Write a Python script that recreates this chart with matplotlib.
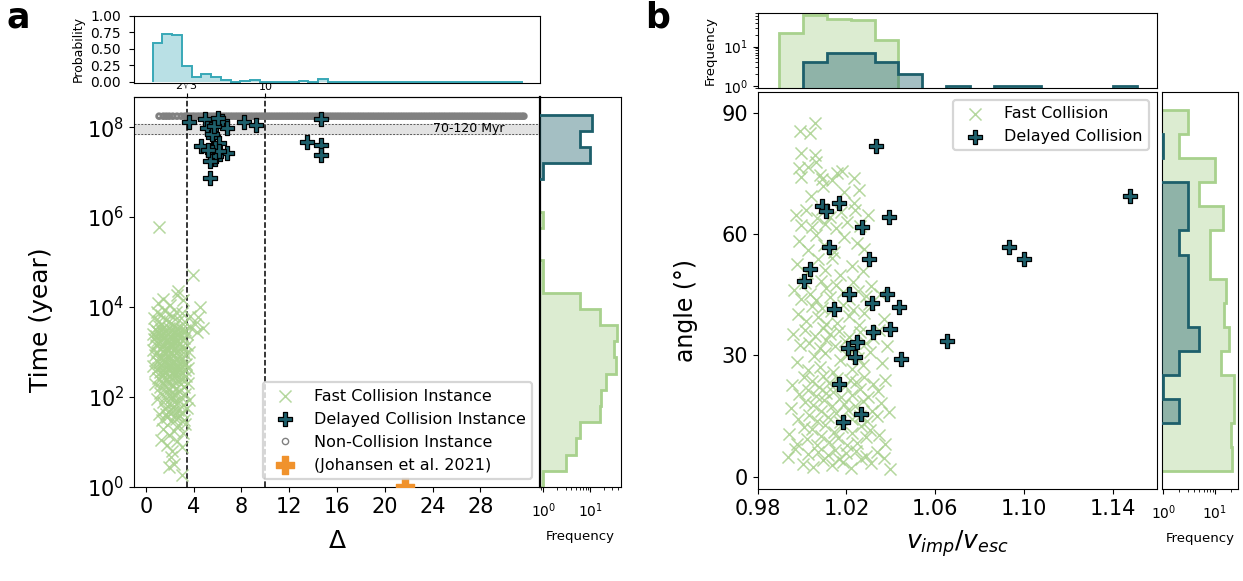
import numpy as np
import matplotlib
matplotlib.use("Agg")
import matplotlib.pyplot as plt
from matplotlib.ticker import NullLocator
from matplotlib.lines import Line2D

# ---------------- data ----------------
# collision probability per Delta bin (top histogram of panel a)
collision_probability = [0.59, 0.727, 0.707, 0.237, 0.076, 0.111, 0.066, 0.025, 0.0, 0.015,
                         0.025, 0.0, 0.0, 0.0, 0.0, 0.015, 0.0, 0.035, 0.0, 0.0,
                         0.0, 0.0, 0.0, 0.0, 0.0, 0.0, 0.0, 0.0, 0.0, 0.0,
                         0.0, 0.0, 0.0, 0.0, 0.0, 0.0, 0.0, 0.0]

# panel a: fast collisions (Delta, log10 time [yr])
fast_delta = [
    2.98,
    2.14, 2.32, 1.95,
    1.30, 2.56, 2.20, 1.75, 3.00,
    3.10, 1.45, 2.70, 1.90, 2.35, 3.25,
    1.10, 1.35, 1.58, 1.80, 1.95, 2.10, 2.25, 2.40, 2.55, 2.70, 2.85, 3.00, 3.20, 3.45, 1.70, 2.30,
    0.95, 1.20, 1.40, 1.62, 1.78, 1.93, 2.08, 2.22, 2.37, 2.50, 2.66, 2.80, 2.95, 3.12, 3.30, 3.60, 2.15,
    0.80, 1.00, 1.15, 1.28, 1.42, 1.55, 1.68, 1.82, 1.95, 2.05, 2.18, 2.30, 2.42, 2.55, 2.68, 2.80,
    2.92, 3.05, 3.18, 3.35, 3.55, 1.60,
    0.62, 0.75, 0.88, 0.98, 1.08, 1.18, 1.27, 1.36, 1.45, 1.53, 1.62, 1.70, 1.79, 1.87, 1.95, 2.03,
    2.11, 2.19, 2.27, 2.35, 2.43, 2.51, 2.59, 2.67, 2.75, 2.84, 2.93, 3.02, 3.12, 3.23, 3.36, 3.52,
    1.40, 2.00, 2.60,
    0.60, 0.72, 0.85, 0.95, 1.05, 1.14, 1.23, 1.32, 1.41, 1.50, 1.58, 1.67, 1.76, 1.84, 1.92, 2.01,
    2.09, 2.17, 2.26, 2.34, 2.43, 2.52, 2.61, 2.70, 2.79, 2.88, 2.98, 3.10, 3.24, 3.40, 3.62, 1.88,
    0.58, 0.68, 0.78, 0.87, 0.96, 1.04, 1.12, 1.20, 1.28, 1.36, 1.44, 1.52, 1.60, 1.68, 1.76, 1.84,
    1.92, 2.00, 2.08, 2.16, 2.24, 2.32, 2.40, 2.48, 2.56, 2.64, 2.72, 2.80, 2.89, 2.98, 3.08, 3.19,
    3.30, 3.45, 3.65, 4.25, 4.80, 1.00,
    0.70, 0.90, 1.10, 1.30, 1.50, 1.70, 1.90, 2.10, 2.30, 2.50, 2.75, 3.00, 3.30, 3.70, 4.37, 4.10,
    1.43, 2.56, 4.51, 1.05, 2.00, 3.10,
    2.69,
    3.95,
    1.07,
]
fast_log10_time = [
    0.27,
    0.66, 0.52, 0.45,
    1.05, 1.02, 0.80, 0.93, 0.88,
    1.19, 1.30, 1.38, 1.15, 1.25, 1.41,
    1.62, 1.50, 1.74, 1.55, 1.68, 1.47, 1.78, 1.60, 1.52, 1.71, 1.58, 1.66, 1.49, 1.75, 1.62, 1.69,
    1.95, 2.08, 1.88, 2.01, 2.12, 1.84, 1.97, 2.10, 1.90, 2.05, 1.86, 2.13, 1.99, 1.83, 2.07, 1.94, 2.02,
    2.30, 2.42, 2.22, 2.35, 2.48, 2.27, 2.40, 2.19, 2.33, 2.46, 2.25, 2.38, 2.50, 2.21, 2.36, 2.44,
    2.28, 2.41, 2.23, 2.47, 2.32, 2.37,
    2.70, 2.58, 2.82, 2.64, 2.76, 2.55, 2.86, 2.68, 2.60, 2.79, 2.54, 2.73, 2.85, 2.62, 2.71, 2.57,
    2.80, 2.66, 2.53, 2.77, 2.63, 2.84, 2.58, 2.72, 2.61, 2.81, 2.56, 2.69, 2.78, 2.59, 2.74, 2.65,
    2.83, 2.68, 2.70,
    3.05, 2.93, 3.15, 2.99, 3.21, 3.08, 2.90, 3.12, 3.02, 3.19, 2.95, 3.10, 3.04, 3.22, 2.91, 3.13,
    3.00, 3.17, 2.94, 3.09, 3.20, 2.97, 3.11, 3.03, 3.18, 2.92, 3.14, 3.06, 2.96, 3.16, 3.01, 3.07,
    3.40, 3.28, 3.52, 3.35, 3.46, 3.27, 3.57, 3.38, 3.49, 3.30, 3.43, 3.55, 3.33, 3.47, 3.26, 3.41,
    3.53, 3.36, 3.29, 3.50, 3.39, 3.58, 3.31, 3.45, 3.37, 3.54, 3.25, 3.42, 3.34, 3.51, 3.44, 3.32,
    3.48, 3.39, 3.56, 3.45, 3.53, 3.44,
    3.75, 3.88, 3.68, 3.82, 3.93, 3.71, 3.85, 3.64, 3.79, 3.90, 3.72, 3.86, 3.66, 3.81, 3.78, 3.62,
    4.19, 4.27, 4.00, 4.10, 4.05, 4.15,
    4.36,
    4.71,
    5.79,
]

# panel a: delayed collisions
delayed_delta = [3.62, 4.93, 5.08, 5.86, 6.33, 6.80, 5.63, 6.13, 4.60, 5.77,
                 5.63, 5.77, 6.75, 5.35, 8.23, 9.21, 14.66, 13.52, 14.66, 14.64,
                 5.50, 5.90, 6.10, 5.40, 5.20, 5.50, 5.70, 6.00]
delayed_log10_time = [8.12, 8.17, 7.99, 8.08, 8.14, 7.99, 7.78, 7.64, 7.58, 7.53,
                      7.38, 7.30, 7.42, 6.86, 8.12, 8.04, 8.17, 7.66, 7.60, 7.39,
                      7.45, 7.35, 7.48, 7.25, 7.50, 7.85, 8.02, 8.20]

# panel a: non-collision instances (all at the end of the integration)
noncollision_delta = [
    1.10, 1.45, 1.70, 1.95, 2.25, 2.60, 2.95, 3.25,
    3.45, 3.66, 3.88, 4.07, 4.30, 4.51, 4.72, 4.94, 5.13, 5.36, 5.57, 5.78, 6.00, 6.19, 6.42, 6.63,
    6.84, 7.05, 7.26, 7.48, 7.69, 7.90, 8.11, 8.33, 8.54, 8.75, 8.96, 9.18, 9.39, 9.60, 9.81, 10.03,
    10.24, 10.45, 10.66, 10.88, 11.09, 11.30, 11.51, 11.73, 11.94, 12.15, 12.36, 12.58, 12.79, 13.00,
    13.21, 13.43, 13.64, 13.85, 14.06, 14.28, 14.49, 14.70, 14.91, 15.13, 15.34, 15.55, 15.76, 15.98,
    16.19, 16.40, 16.61, 16.83, 17.04, 17.25, 17.46, 17.68, 17.89, 18.10, 18.31, 18.53, 18.74, 18.95,
    19.16, 19.38, 19.59, 19.80, 20.01, 20.23, 20.44, 20.65, 20.86, 21.08, 21.29, 21.50, 21.71, 21.93,
    22.14, 22.35, 22.56, 22.78, 22.99, 23.20, 23.41, 23.63, 23.84, 24.05, 24.26, 24.48, 24.69, 24.90,
    25.11, 25.33, 25.54, 25.75, 25.96, 26.18, 26.39, 26.60, 26.81, 27.03, 27.24, 27.45, 27.66, 27.88,
    28.09, 28.30, 28.51, 28.73, 28.94, 29.15, 29.36, 29.58, 29.79, 30.00, 30.21, 30.43, 30.64, 30.85,
    31.06, 31.28, 31.49, 31.65,
]
noncollision_time = 1.75e8

johansen_delta = [21.7]
johansen_time = [1.0]

# panel b: fast collisions (v_imp/v_esc, angle)
fast_v = [
    0.9992, 1.0058, 1.0036,
    0.9995, 1.0058,
    0.9985, 0.9996, 1.0027, 1.0081, 1.0088, 1.0062, 1.0156, 1.0179, 1.0135, 1.0236,
    1.0040, 1.0095, 1.0190, 1.0232, 1.0258,
    0.9972, 0.9995, 1.0018, 1.0046, 1.0067, 1.0089, 1.0105, 1.0128, 1.0153, 1.0175, 1.0201, 1.0238, 1.0262, 1.0295,
    0.9988, 1.0029, 1.0061, 1.0098, 1.0142, 1.0187, 1.0249, 1.0281,
    0.9976, 1.0021, 1.0073, 1.0104, 1.0136, 1.0169, 1.0226, 1.0274,
    0.9962, 0.9994, 1.0012, 1.0038, 1.0065, 1.0084, 1.0109, 1.0124, 1.0151, 1.0183, 1.0210, 1.0231, 1.0254, 1.0288, 1.0310, 1.0352,
    0.9981, 1.0016, 1.0043, 1.0070, 1.0092, 1.0107, 1.0131, 1.0158, 1.0185, 1.0213, 1.0229, 1.0256, 1.0277, 1.0301, 1.0368,
    0.9958, 0.9990, 1.0014, 1.0033, 1.0057, 1.0079, 1.0096, 1.0108, 1.0126, 1.0148, 1.0167, 1.0192, 1.0212, 1.0237, 1.0263, 1.0290, 1.0318, 1.0345, 1.0382,
    0.9979, 1.0025, 1.0052, 1.0080, 1.0103, 1.0139, 1.0171, 1.0204, 1.0227, 1.0251, 1.0276, 1.0305, 1.0359,
    0.9955, 0.9987, 1.0009, 1.0027, 1.0044, 1.0063, 1.0077, 1.0094, 1.0106, 1.0121, 1.0139, 1.0157, 1.0174, 1.0195, 1.0214, 1.0225, 1.0242, 1.0260, 1.0279, 1.0298, 1.0319, 1.0341, 1.0376,
    0.9948, 0.9983, 1.0011, 1.0030, 1.0049, 1.0068, 1.0087, 1.0101, 1.0118, 1.0134, 1.0152, 1.0170, 1.0188, 1.0206, 1.0223, 1.0240, 1.0259, 1.0275, 1.0292, 1.0314, 1.0336, 1.0357, 1.0392,
    0.9943, 0.9976, 1.0007, 1.0024, 1.0046, 1.0066, 1.0085, 1.0104, 1.0123, 1.0144, 1.0162, 1.0181, 1.0203, 1.0224, 1.0246, 1.0265, 1.0287, 1.0308, 1.0348, 1.0375,
    0.9935, 0.9968, 1.0005, 1.0028, 1.0051, 1.0073, 1.0096, 1.0115, 1.0133, 1.0149, 1.0165, 1.0186, 1.0199, 1.0221, 1.0244, 1.0266, 1.0289, 1.0312, 1.0339, 1.0371, 1.0395,
]
fast_angle = [
    85.6, 87.4, 85.1,
    80.0, 79.6,
    76.3, 74.0, 76.7, 74.6, 73.6, 77.8, 75.2, 75.6, 73.3, 73.9,
    69.5, 71.8, 70.4, 67.8, 71.0,
    64.8, 62.3, 65.9, 61.7, 63.9, 66.2, 62.6, 64.3, 61.4, 65.5, 63.0, 66.0, 62.1, 64.6,
    58.4, 56.1, 59.8, 57.3, 55.6, 59.2, 57.9, 56.4,
    52.7, 50.3, 53.9, 51.2, 54.1, 49.8, 52.2, 50.8,
    46.2, 44.0, 47.9, 45.1, 43.6, 48.3, 46.7, 44.4, 47.5, 45.6, 43.9, 48.1, 46.0, 44.7, 47.2, 45.3,
    40.2, 38.5, 42.1, 39.4, 41.6, 37.8, 40.9, 38.1, 42.4, 39.7, 41.3, 37.6, 40.5, 42.7, 38.9,
    35.4, 32.6, 36.3, 33.1, 34.8, 31.9, 36.7, 33.9, 35.2, 32.4, 36.0, 33.6, 34.5, 31.8, 35.9, 33.0, 34.2, 36.4, 32.3,
    28.3, 26.4, 29.9, 27.1, 30.6, 25.9, 28.8, 30.2, 26.7, 29.4, 27.6, 30.8, 28.1,
    22.8, 20.4, 24.6, 21.5, 23.7, 19.9, 22.1, 24.9, 20.8, 23.2, 21.0, 24.3, 19.7, 22.5, 24.0, 20.3, 23.4, 21.8, 24.7, 19.6, 22.9, 21.2, 23.9,
    16.9, 14.2, 18.6, 15.3, 17.8, 13.8, 16.2, 18.9, 14.7, 17.4, 15.8, 13.6, 18.1, 16.5, 14.4, 17.6, 15.1, 18.8, 13.9, 16.3, 14.9, 18.3, 16.0,
    10.6, 8.1, 12.4, 9.3, 11.7, 7.9, 10.2, 12.8, 8.7, 11.1, 9.6, 12.2, 7.8, 10.9, 8.4, 12.6, 9.9, 11.5, 10.3, 8.2,
    4.8, 6.9, 3.2, 5.6, 2.4, 6.2, 4.1, 5.3, 2.9, 6.6, 4.5, 3.6, 5.9, 2.2, 6.3, 4.3, 5.1, 3.4, 6.0, 4.7, 1.9,
]

# panel b: delayed collisions
delayed_v = [1.0333, 1.0088, 1.0110, 1.0168, 1.0393, 1.0269, 1.0121, 1.0303, 1.0036, 1.0010,
             1.0211, 1.0381, 1.0144, 1.0314, 1.0438, 1.0318, 1.0396, 1.0206, 1.0246, 1.0238,
             1.0444, 1.0652, 1.0166, 1.0264, 1.0186, 1.0932, 1.1000, 1.1478]
delayed_angle = [81.8, 67.0, 65.8, 67.6, 64.1, 61.8, 56.9, 53.8, 51.3, 48.4,
                 45.3, 45.3, 41.5, 42.9, 41.9, 35.7, 36.5, 31.9, 33.4, 29.7,
                 29.0, 33.6, 22.9, 15.5, 13.5, 56.9, 53.8, 69.4]

# ---------------- styling / layout ----------------
GREEN = "#a8d18d"
TEAL = "#1d5f6b"
ORANGE = "#f0922c"
PROB = "#38a8b7"

W, H = 1243, 581
fig = plt.figure(figsize=(W / 100, H / 100), dpi=100)


def box(l, t, r, b):
    return [l / W, 1 - b / H, (r - l) / W, (b - t) / H]


ax_a = fig.add_axes(box(134, 97.3, 540, 487))
ax_a_top = fig.add_axes(box(134, 15.7, 540, 83.3))
ax_a_right = fig.add_axes(box(540, 97.3, 620.7, 487))
ax_b = fig.add_axes(box(757.7, 91.7, 1157, 489.3))
ax_b_top = fig.add_axes(box(757.7, 12.7, 1157, 88.3))
ax_b_right = fig.add_axes(box(1161.7, 91.7, 1238.3, 489.3))

fast_time = 10 ** np.array(fast_log10_time)
delayed_time = 10 ** np.array(delayed_log10_time)

# bins (layout parameters)
prob_edges = np.linspace(0.56, 31.54, len(collision_probability) + 1)
time_edges = 10 ** np.linspace(0, 8.28, 24)
v_edges = np.linspace(0.9897, 1.1508, 16)
angle_edges = np.linspace(1.4, 90.65, 16)


def draw_hist(ax, data, edges, color, orientation, z):
    counts, _ = np.histogram(data, edges)
    vals = np.where(counts > 0, counts, 0.3).astype(float)
    ax.stairs(vals, edges, orientation=orientation, baseline=0.3, fill=True,
              color=color, alpha=0.4, lw=0, zorder=z)
    ax.stairs(vals, edges, orientation=orientation, baseline=0.3, fill=False,
              color=color, lw=2.0, zorder=z + 0.1)


# ---------------- panel a main ----------------
ax = ax_a
ax.axhspan(7e7, 1.2e8, color="#e2e2e2", zorder=0)
for yv in (7e7, 1.2e8):
    ax.axhline(yv, color="0.35", lw=0.7, ls=(0, (2, 1.5)), zorder=0.5)
ax.axvline(2 * np.sqrt(3), color="k", ls="--", lw=1.1, zorder=1)
ax.axvline(10, color="k", ls="--", lw=1.1, zorder=1)
ax.text(24.0, 9.2e7, "70-120 Myr", fontsize=9, va="center", ha="left", zorder=1)

ax.scatter(noncollision_delta, np.full(len(noncollision_delta), noncollision_time),
           marker="o", s=12, facecolors="none", edgecolors="#808080",
           linewidths=2.0, zorder=2)
h_nc = Line2D([], [], ls="", marker="o", ms=4.5, mfc="white", mec="#808080", mew=1.0,
              label="Non-Collision Instance")
h_fast = ax.scatter(fast_delta, fast_time, marker="x", s=75, color=GREEN, linewidths=1.1,
                    alpha=0.85, zorder=3, label="Fast Collision Instance")
h_del = ax.scatter(delayed_delta, delayed_time, marker="P", s=100, facecolor=TEAL,
                   edgecolor="k", linewidths=0.9, zorder=4, label="Delayed Collision Instance")
h_joh = ax.scatter(johansen_delta, johansen_time, marker="P", s=170, color=ORANGE,
                   zorder=3, label="(Johansen et al. 2021)")

ax.set_xlim(-1, 33)
ax.set_yscale("log")
ax.set_ylim(1, 4.6e8)
ax.set_yticks([1, 1e2, 1e4, 1e6, 1e8])
ax.yaxis.set_minor_locator(NullLocator())
ax.set_xticks(np.arange(0, 29, 4))
ax.tick_params(labelsize=15)
ax.set_xlabel("Δ", fontsize=18, labelpad=9)
ax.set_ylabel("Time (year)", fontsize=18)
ax.yaxis.set_label_coords(-0.20, 0.43)
leg = ax.legend(handles=[h_fast, h_del, h_nc, h_joh], loc="lower right", fontsize=11.5,
                framealpha=0.8, edgecolor="#cccccc")
leg.get_frame().set_linewidth(1.6)
sec = ax.secondary_xaxis("top")
sec.set_xticks([2 * np.sqrt(3), 10], labels=[r"$2\sqrt{3}$", "10"])
sec.tick_params(labelsize=8, length=3, pad=1)

# ---------------- panel a top (probability) ----------------
ax = ax_a_top
ax.stairs(collision_probability, prob_edges, fill=True, color=PROB, alpha=0.35, lw=0)
ax.stairs(collision_probability, prob_edges, color=PROB, lw=1.4)
ax.set_xlim(-1, 33)
ax.set_ylim(-0.025, 1.0)
ax.set_yticks([0, 0.25, 0.5, 0.75, 1.0])
ax.set_yticklabels(["0.00", "0.25", "0.50", "0.75", "1.00"])
ax.tick_params(axis="y", labelsize=10, pad=6)
ax.tick_params(axis="x", bottom=False, labelbottom=False)
ax.set_ylabel("Probability", fontsize=9)

# ---------------- panel a right (frequency) ----------------
ax = ax_a_right
draw_hist(ax, fast_time, time_edges, GREEN, "horizontal", 2)
draw_hist(ax, delayed_time, time_edges, TEAL, "horizontal", 3)
ax.set_xscale("log")
ax.set_xlim(0.85, 45)
ax.set_yscale("log")
ax.set_ylim(1, 4.6e8)
ax.tick_params(axis="y", left=False, labelleft=False, which="both")
ax.tick_params(axis="x", labelsize=10, pad=7)
ax.set_xlabel("Frequency", fontsize=9.5, labelpad=7)
ax.spines["left"].set_linewidth(1.6)

# ---------------- panel b main ----------------
ax = ax_b
hb_fast = ax.scatter(fast_v, fast_angle, marker="x", s=75, color=GREEN, linewidths=1.1,
                     alpha=0.85, zorder=3, label="Fast Collision")
hb_del = ax.scatter(delayed_v, delayed_angle, marker="P", s=100, facecolor=TEAL,
                    edgecolor="k", linewidths=0.9, zorder=4, label="Delayed Collision")
ax.set_xlim(0.98, 1.16)
ax.set_ylim(-3.1, 95.2)
ax.set_xticks([0.98, 1.02, 1.06, 1.10, 1.14])
ax.set_xticklabels(["0.98", "1.02", "1.06", "1.10", "1.14"])
ax.set_yticks([0, 30, 60, 90])
ax.tick_params(labelsize=15)
ax.set_xlabel(r"$v_{imp}/v_{esc}$", fontsize=18, labelpad=7)
ax.set_ylabel("angle (°)", fontsize=17)
ax.yaxis.set_label_coords(-0.15, 0.45)
legb = ax.legend(handles=[hb_fast, hb_del], loc="upper right", fontsize=11.5,
                 framealpha=0.8, edgecolor="#cccccc")
legb.get_frame().set_linewidth(1.6)

# ---------------- panel b top ----------------
ax = ax_b_top
draw_hist(ax, fast_v, v_edges, GREEN, "vertical", 2)
draw_hist(ax, delayed_v, v_edges, TEAL, "vertical", 3)
ax.set_yscale("log")
ax.set_ylim(0.87, 73)
ax.set_xlim(0.98, 1.16)
ax.tick_params(axis="x", bottom=False, labelbottom=False, which="both")
ax.tick_params(axis="y", labelsize=10)
ax.set_ylabel("Frequency", fontsize=9.5)

# ---------------- panel b right ----------------
ax = ax_b_right
draw_hist(ax, fast_angle, angle_edges, GREEN, "horizontal", 2)
draw_hist(ax, delayed_angle, angle_edges, TEAL, "horizontal", 3)
ax.set_xscale("log")
ax.set_xlim(0.93, 28.3)
ax.set_ylim(-3.1, 95.2)
ax.tick_params(axis="y", left=False, labelleft=False, which="both")
ax.tick_params(axis="x", labelsize=10, pad=7)
ax.set_xlabel("Frequency", fontsize=9.5, labelpad=7)

# panel letters
fig.text(7 / W, 1 - 1 / H, "a", fontsize=25, fontweight="bold", va="top", ha="left")
fig.text(645 / W, 1 - 1 / H, "b", fontsize=25, fontweight="bold", va="top", ha="left")

fig.savefig("out.png", dpi=100)
